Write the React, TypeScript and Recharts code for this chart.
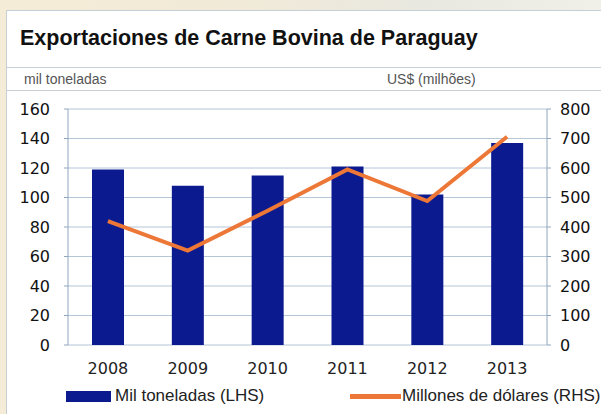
import { ComposedChart, Bar, Line, XAxis, YAxis, CartesianGrid } from 'recharts'

const years = ['2008', '2009', '2010', '2011', '2012', '2013']
const tons = [119, 108, 115, 121, 102, 137]
const usd = [420, 320, 455, 595, 488, 706]
const leftTicks = [0, 20, 40, 60, 80, 100, 120, 140, 160]
const rightTicks = [0, 100, 200, 300, 400, 500, 600, 700, 800]
const bandEdges = [0, 1, 2, 3, 4, 5, 6]

const BAR = '#0b1a8f'
const ORANGE = '#ec7737'
const GRID = '#b4c6d8'
const AXIS = '#8fa6bd'
const FONT = '"DejaVu Sans", Verdana, sans-serif'

const data = years.map((y, i) => ({ year: y, tons: tons[i], usd: usd[i], pos: i + 0.5 }))

export default function App() {
  return (
    <div
      style={{
        position: 'absolute',
        left: 0,
        top: 0,
        width: 601,
        height: 414,
        overflow: 'hidden',
        background: 'linear-gradient(90deg, #f4ecd6 0%, #f1ead8 40%, #e9e8e0 70%, #f0efe8 100%)',
        fontFamily: '"Liberation Sans", Arial, sans-serif',
      }}
    >
      <div
        style={{
          position: 'absolute',
          left: 6,
          top: 10,
          width: 620,
          height: 420,
          background: '#fff',
          border: '1px solid #c6ced6',
        }}
      />
      <div style={{ position: 'absolute', left: 6, top: 67, width: 600, height: 1, background: '#c6ced6' }} />
      <div style={{ position: 'absolute', left: 6, top: 90, width: 600, height: 1, background: '#c6ced6' }} />
      <div
        style={{
          position: 'absolute',
          left: 20,
          top: 26,
          fontSize: 21.5,
          fontWeight: 'bold',
          color: '#111',
          whiteSpace: 'nowrap',
        }}
      >
        Exportaciones de Carne Bovina de Paraguay
      </div>
      <div style={{ position: 'absolute', left: 24, top: 71, fontSize: 14, color: '#555' }}>mil toneladas</div>
      <div style={{ position: 'absolute', left: 387, top: 71, fontSize: 14, color: '#555' }}>US$ (milhões)</div>

      <div style={{ position: 'absolute', left: 0, top: 0 }}>
        <ComposedChart
          width={601}
          height={414}
          data={data}
          margin={{ top: 109, right: 0, bottom: 29, left: 0 }}
          barCategoryGap={24}
        >
          <CartesianGrid vertical={false} stroke={GRID} yAxisId="left" />
          <XAxis
            xAxisId="edges"
            type="number"
            dataKey="pos"
            domain={[0, 6]}
            ticks={bandEdges}
            tick={false}
            tickSize={5}
            height={0}
            stroke={AXIS}
          />
          <XAxis
            xAxisId="cat"
            dataKey="year"
            axisLine={false}
            tickLine={false}
            tickSize={0}
            tickMargin={18}
            height={40}
            tick={{ fill: '#222', fontSize: 16, fontFamily: FONT }}
          />
          <YAxis
            yAxisId="left"
            orientation="left"
            width={68}
            domain={[0, 160]}
            ticks={leftTicks}
            tickSize={4}
            tickMargin={14}
            stroke={AXIS}
            tick={{ fill: '#111', fontSize: 16, fontFamily: FONT }}
          />
          <YAxis
            yAxisId="right"
            orientation="right"
            width={54}
            domain={[0, 800]}
            ticks={rightTicks}
            tickSize={4}
            tickMargin={9}
            stroke={AXIS}
            tick={{ fill: '#111', fontSize: 16, fontFamily: FONT, textAnchor: 'start' }}
          />
          <Bar xAxisId="cat" yAxisId="left" dataKey="tons" fill={BAR} isAnimationActive={false} />
          <Line
            xAxisId="cat"
            yAxisId="right"
            dataKey="usd"
            stroke={ORANGE}
            strokeWidth={4}
            dot={false}
            activeDot={false}
            isAnimationActive={false}
          />
        </ComposedChart>
      </div>

      <div style={{ position: 'absolute', left: 66, top: 391, width: 45, height: 11, background: BAR }} />
      <div style={{ position: 'absolute', left: 115, top: 386, fontSize: 17, color: '#222' }}>Mil toneladas (LHS)</div>
      <div style={{ position: 'absolute', left: 350, top: 394, width: 51, height: 5, background: ORANGE }} />
      <div style={{ position: 'absolute', left: 402, top: 386, fontSize: 17, color: '#222', whiteSpace: 'nowrap' }}>
        Millones de dólares (RHS)
      </div>
    </div>
  )
}
